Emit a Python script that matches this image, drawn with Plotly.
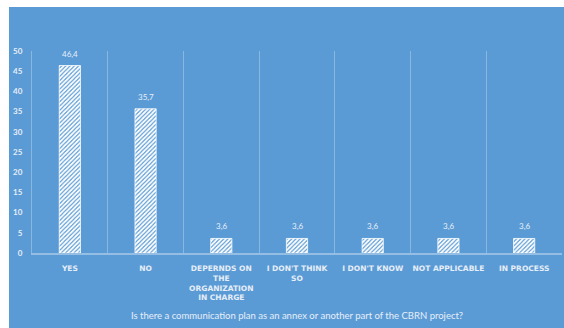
import plotly.graph_objects as go

categories = [
    "YES",
    "NO",
    "DEPERNDS ON<br>THE<br>ORGANIZATION<br>IN CHARGE",
    "I DON'T THINK<br>SO",
    "I DON'T KNOW",
    "NOT APPLICABLE",
    "IN PROCESS",
]
values = [46.4, 35.7, 3.6, 3.6, 3.6, 3.6, 3.6]
y_ticks = [0, 5, 10, 15, 20, 25, 30, 35, 40, 45, 50]
axis_title = "Is there a communication plan as an annex or another part of the CBRN project?"

W, H = 564, 328
ML, MR, MT, MB = 32, 2, 51, 75
BLUE = "#5b9bd5"
TXT = "#e6eef8"
GRID = "rgba(255,255,255,0.28)"

pw = W - ML - MR
ph = H - MT - MB

fig = go.Figure(
    go.Bar(
        x=categories,
        y=values,
        width=0.28,
        marker=dict(
            color="white",
            line=dict(color="white", width=0.8),
            pattern=dict(shape="/", fgcolor="white", bgcolor=BLUE, size=3,
                         solidity=0.62, fillmode="replace"),
        ),
        cliponaxis=False,
    )
)

# value labels above each bar
for c, v in zip(categories, values):
    fig.add_annotation(
        x=c, y=v, text=f"{v:.1f}".replace(".", ","),
        showarrow=False, yanchor="bottom", yshift=5,
        font=dict(family="Lato", size=8, color=TXT),
    )

# blue panel behind the chart, leaving a thin white strip at top/left
fig.add_shape(
    type="rect", xref="paper", yref="paper", layer="below",
    x0=(9 - ML) / pw, x1=(W - ML) / pw,
    y0=-(H - (MT + ph)) / ph, y1=(MT + ph - 7) / ph,
    fillcolor=BLUE, line=dict(width=0),
)

fig.add_annotation(
    text=axis_title, xref="paper", yref="paper",
    x=(297 - ML) / pw, y=-(315 - MT - ph) / ph,
    showarrow=False, xanchor="center", yanchor="middle",
    font=dict(family="Liberation Sans Narrow, Lato", size=9.5, color=TXT),
)

fig.update_layout(
    width=W, height=H,
    margin=dict(l=ML, r=MR, t=MT, b=MB, pad=0),
    paper_bgcolor="white",
    plot_bgcolor=BLUE,
    showlegend=False,
    xaxis=dict(
        type="category",
        tickson="boundaries",
        showgrid=True, gridcolor=GRID, gridwidth=1,
        showline=True, linecolor="rgba(255,255,255,0.35)", linewidth=2,
        ticks="", ticklen=0,
        ticklabelstandoff=7,
        tickfont=dict(family="DejaVu Sans", size=7.5, color=TXT, weight="bold"),
        tickangle=0,
    ),
    yaxis=dict(
        range=[0, 50],
        tickvals=y_ticks,
        showgrid=False,
        zeroline=False,
        showline=True, linecolor=GRID, linewidth=1,
        ticks="", ticklen=0,
        ticklabelstandoff=7,
        tickfont=dict(family="Lato", size=8, color=TXT, weight="bold"),
    ),
)

fig.write_html("out.html")
